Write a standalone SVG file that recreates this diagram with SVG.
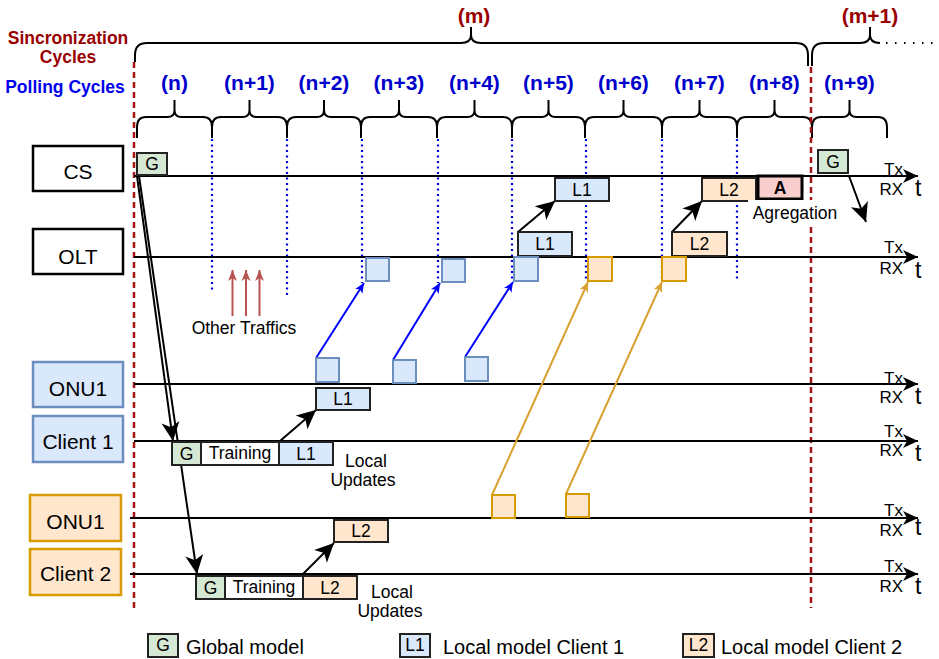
<svg xmlns="http://www.w3.org/2000/svg" width="939" height="659" viewBox="0 0 939 659">
<style>
text{font-family:"Liberation Sans",Arial,sans-serif;fill:#000}
.lbl{font-size:17.5px}
.nd{font-size:21px;text-anchor:middle}
.mid{text-anchor:middle}
.end{text-anchor:end}
.poll{font-size:21px;font-weight:bold;fill:#0000CC;text-anchor:middle}
.sync{font-size:21px;font-weight:bold;fill:#990000;text-anchor:middle}
.tl{stroke:#000;stroke-width:2;fill:none}
.brace{stroke:#000;stroke-width:2;fill:none}
.red{stroke:#A31515;stroke-width:2.5;stroke-dasharray:6 4;fill:none}
.dot{stroke:#0000DD;stroke-width:2.2;stroke-dasharray:2 3.5;fill:none}
.nbox{fill:#fff;stroke:#000;stroke-width:2.5}
.nblue{fill:#dae8fc;stroke:#6c8ebf;stroke-width:2.5}
.norg{fill:#ffe6cc;stroke:#d79b00;stroke-width:2.5}
.g{fill:#d5e8d4;stroke:#222;stroke-width:2}
.l1{fill:#dae8fc;stroke:#222;stroke-width:2}
.l2{fill:#ffe6cc;stroke:#222;stroke-width:2}
.tr{fill:#fff;stroke:#222;stroke-width:2}
.sqb{fill:#dae8fc;stroke:#6c8ebf;stroke-width:2}
.sqo{fill:#ffe6cc;stroke:#d79b00;stroke-width:2}
.ab{stroke:#000;stroke-width:2;fill:none;marker-end:url(#ab)}
.bl{stroke:#0000FF;stroke-width:2;fill:none;marker-end:url(#sb)}
.or{stroke:#DAA030;stroke-width:2;fill:none;marker-end:url(#so)}
.ra{stroke:#B85450;stroke-width:2;fill:none;marker-end:url(#sr)}
.txs{font-size:17px}
.tt{font-size:23px}
</style>
<defs>
<marker id="ab" markerUnits="userSpaceOnUse" markerWidth="22" markerHeight="20" viewBox="0 0 22 20" refX="20" refY="10" orient="auto"><path d="M20,10 L1,1 L6,10 L1,19 Z" fill="#000"/></marker>
<marker id="at" markerUnits="userSpaceOnUse" markerWidth="18" markerHeight="16" viewBox="0 0 18 16" refX="16" refY="8" orient="auto"><path d="M16,8 L1,1 L5,8 L1,15 Z" fill="#000"/></marker>
<marker id="sb" markerUnits="userSpaceOnUse" markerWidth="11" markerHeight="10" viewBox="0 0 11 10" refX="10" refY="5" orient="auto"><path d="M10,5 L0,0.5 L2.5,5 L0,9.5 Z" fill="#0000FF"/></marker>
<marker id="so" markerUnits="userSpaceOnUse" markerWidth="11" markerHeight="10" viewBox="0 0 11 10" refX="10" refY="5" orient="auto"><path d="M10,5 L0,0.5 L2.5,5 L0,9.5 Z" fill="#DAA030"/></marker>
<marker id="sr" markerUnits="userSpaceOnUse" markerWidth="12" markerHeight="10" viewBox="0 0 12 10" refX="11" refY="5" orient="auto"><path d="M11,5 L0,0.5 L3,5 L0,9.5 Z" fill="#B85450"/></marker>
</defs>
<rect width="939" height="659" fill="#fff"/>

<!-- header labels -->
<g id="header">
<text class="lbl mid" x="68" y="44" style="font-weight:bold;fill:#990000">Sincronization</text>
<text class="lbl mid" x="68" y="63" style="font-weight:bold;fill:#990000">Cycles</text>
<text class="lbl mid" x="65" y="93" style="font-weight:bold;fill:#0000EE">Polling Cycles</text>
<text class="sync" x="474" y="23">(m)</text>
<text class="sync" x="870" y="23">(m+1)</text>
<text class="poll" x="174.5" y="90">(n)</text>
<text class="poll" x="249.5" y="90">(n+1)</text>
<text class="poll" x="324" y="90">(n+2)</text>
<text class="poll" x="399" y="90">(n+3)</text>
<text class="poll" x="474.5" y="90">(n+4)</text>
<text class="poll" x="548.5" y="90">(n+5)</text>
<text class="poll" x="623.5" y="90">(n+6)</text>
<text class="poll" x="699.5" y="90">(n+7)</text>
<text class="poll" x="774.5" y="90">(n+8)</text>
<text class="poll" x="849.5" y="90">(n+9)</text>
</g>

<!-- braces -->
<g id="braces">
<path class="brace" d="M135,62 L135,55 Q135,43 147,43 L461,43 Q471,43 471,35 L471,27 M471,35 Q471,43 481,43 L796,43 Q808,43 808,55 L808,66"/>
<path class="brace" d="M812,66 L812,55 Q812,43 824,43 L860,43 Q870,43 870,35 L870,27 M870,35 Q870,43 880,43"/>
<line x1="886" y1="43" x2="936" y2="43" stroke="#000" stroke-width="2" stroke-dasharray="1.5 7.5"/>
<path class="brace" d="M137,138 L137,127 Q137,117 146,117 L167.5,117 Q174.5,117 174.5,110 L174.5,100 M174.5,110 Q174.5,117 181.5,117 L203,117 Q212,117 212,127 L212,138
M212,138 L212,127 Q212,117 221,117 L242.5,117 Q249.5,117 249.5,110 L249.5,100 M249.5,110 Q249.5,117 256.5,117 L278,117 Q287,117 287,127 L287,138
M287,138 L287,127 Q287,117 296,117 L317,117 Q324,117 324,110 L324,100 M324,110 Q324,117 331,117 L352,117 Q361,117 361,127 L361,138
M361,138 L361,127 Q361,117 370,117 L392,117 Q399,117 399,110 L399,100 M399,110 Q399,117 406,117 L428,117 Q437,117 437,127 L437,138
M437,138 L437,127 Q437,117 446,117 L467.5,117 Q474.5,117 474.5,110 L474.5,100 M474.5,110 Q474.5,117 481.5,117 L503,117 Q512,117 512,127 L512,138
M512,138 L512,127 Q512,117 521,117 L541.5,117 Q548.5,117 548.5,110 L548.5,100 M548.5,110 Q548.5,117 555.5,117 L576,117 Q585,117 585,127 L585,138
M585,138 L585,127 Q585,117 594,117 L616.5,117 Q623.5,117 623.5,110 L623.5,100 M623.5,110 Q623.5,117 630.5,117 L653,117 Q662,117 662,127 L662,138
M662,138 L662,127 Q662,117 671,117 L692.5,117 Q699.5,117 699.5,110 L699.5,100 M699.5,110 Q699.5,117 706.5,117 L728,117 Q737,117 737,127 L737,138
M737,138 L737,127 Q737,117 746,117 L767.5,117 Q774.5,117 774.5,110 L774.5,100 M774.5,110 Q774.5,117 781.5,117 L803,117 Q812,117 812,127 L812,138
M812,138 L812,127 Q812,117 821,117 L842.5,117 Q849.5,117 849.5,110 L849.5,100 M849.5,110 Q849.5,117 856.5,117 L878,117 Q887,117 887,127 L887,138"/>
</g>

<!-- cycle separators -->
<g id="separators">
<line class="red" x1="134" y1="62" x2="134" y2="608"/>
<line class="red" x1="811" y1="67" x2="811" y2="608"/>
<line class="dot" x1="212" y1="139" x2="212" y2="292"/>
<line class="dot" x1="287" y1="139" x2="287" y2="295"/>
<line class="dot" x1="362" y1="139" x2="362" y2="283"/>
<line class="dot" x1="438" y1="139" x2="438" y2="283"/>
<line class="dot" x1="512" y1="139" x2="512" y2="281"/>
<line class="dot" x1="586" y1="139" x2="586" y2="281"/>
<line class="dot" x1="662" y1="139" x2="662" y2="281"/>
<line class="dot" x1="737" y1="139" x2="737" y2="281"/>
</g>

<!-- timelines -->
<g id="timelines">
<line class="tl" x1="134" y1="176" x2="918" y2="176" marker-end="url(#at)"/>
<line class="tl" x1="134" y1="257" x2="918" y2="257" marker-end="url(#at)"/>
<line class="tl" x1="134" y1="384" x2="918" y2="384" marker-end="url(#at)"/>
<line class="tl" x1="134" y1="441" x2="918" y2="441" marker-end="url(#at)"/>
<line class="tl" x1="130" y1="518" x2="918" y2="518" marker-end="url(#at)"/>
<line class="tl" x1="130" y1="574" x2="918" y2="574" marker-end="url(#at)"/>
<text class="txs end" x="903" y="175">Tx</text><text class="txs end" x="903" y="195">RX</text><text class="tt" x="915" y="196">t</text>
<text class="txs end" x="903" y="253">Tx</text><text class="txs end" x="903" y="274">RX</text><text class="tt" x="915" y="278">t</text>
<text class="txs end" x="903" y="384">Tx</text><text class="txs end" x="903" y="403">RX</text><text class="tt" x="915" y="404">t</text>
<text class="txs end" x="903" y="437">Tx</text><text class="txs end" x="903" y="456">RX</text><text class="tt" x="915" y="461">t</text>
<text class="txs end" x="903" y="516">Tx</text><text class="txs end" x="903" y="536">RX</text><text class="tt" x="915" y="535">t</text>
<text class="txs end" x="903" y="572">Tx</text><text class="txs end" x="903" y="592">RX</text><text class="tt" x="915" y="594">t</text>
</g>

<!-- nodes -->
<g id="node-cs"><rect class="nbox" x="33" y="146" width="90" height="45"/><text class="nd" x="78" y="179">CS</text></g>
<g id="node-olt"><rect class="nbox" x="33" y="229" width="90" height="45"/><text class="nd" x="78" y="264">OLT</text></g>
<g id="node-onu1-a"><rect class="nblue" x="33" y="362" width="90" height="45"/><text class="nd" x="78" y="396">ONU1</text></g>
<g id="node-client1"><rect class="nblue" x="33" y="416" width="90" height="46"/><text class="nd" x="78" y="449">Client 1</text></g>
<g id="node-onu1-b"><rect class="norg" x="30" y="495" width="91" height="46"/><text class="nd" x="75.5" y="529">ONU1</text></g>
<g id="node-client2"><rect class="norg" x="30" y="549" width="91" height="46"/><text class="nd" x="75.5" y="581">Client 2</text></g>

<!-- other traffic -->
<g id="other-traffic">
<line class="ra" x1="232.5" y1="316" x2="232.5" y2="270"/>
<line class="ra" x1="246" y1="316" x2="246" y2="270"/>
<line class="ra" x1="259.5" y1="316" x2="259.5" y2="270"/>
<text class="lbl mid" x="244" y="334">Other Traffics</text>
</g>

<!-- connectors -->
<g id="connectors">
<line class="ab" x1="137" y1="176" x2="173" y2="441"/>
<line class="ab" x1="139" y1="176" x2="197" y2="574"/>
<line class="ab" x1="280" y1="441" x2="316" y2="410"/>
<line class="ab" x1="303" y1="574" x2="334" y2="543"/>
<line class="ab" x1="518" y1="232" x2="555" y2="201"/>
<line class="ab" x1="672" y1="232" x2="702" y2="201"/>
<line class="ab" x1="849" y1="176" x2="866" y2="222"/>
<line class="bl" x1="316" y1="358" x2="364" y2="283"/>
<line class="bl" x1="393" y1="360" x2="440" y2="283"/>
<line class="bl" x1="465" y1="357" x2="513" y2="282"/>
<line class="or" x1="492" y1="495" x2="588" y2="282"/>
<line class="or" x1="566" y1="494" x2="662" y2="282"/>
</g>

<!-- packets / model blocks -->
<g id="cs-g"><rect class="g" x="137" y="153" width="30" height="22"/><text class="lbl mid" x="152" y="170">G</text></g>
<g id="cs-g2"><rect class="g" x="818" y="150" width="30" height="23"/><text class="lbl mid" x="833" y="168">G</text></g>
<g id="cs-l1"><rect class="l1" x="555" y="178" width="54" height="23"/><text class="lbl mid" x="582" y="196">L1</text></g>
<g id="cs-l2"><rect class="l2" x="702" y="178" width="54" height="23"/><text class="lbl mid" x="729" y="196">L2</text></g>
<g id="cs-a"><rect x="758" y="176" width="44" height="23" fill="#f8cecc" stroke="#000" stroke-width="3"/><text class="lbl mid" x="780" y="194" style="font-weight:bold">A</text></g>
<g id="agregation"><rect x="748" y="200" width="94" height="27" fill="#fff"/><text class="lbl mid" x="795" y="219">Agregation</text></g>
<g id="olt-l1"><rect class="l1" x="518" y="232" width="54" height="24"/><text class="lbl mid" x="545" y="250">L1</text></g>
<g id="olt-l2"><rect class="l2" x="672" y="232" width="55" height="24"/><text class="lbl mid" x="699.5" y="250">L2</text></g>
<g id="olt-squares">
<rect class="sqb" x="366" y="258" width="23" height="23"/>
<rect class="sqb" x="442" y="259" width="23" height="23"/>
<rect class="sqb" x="514" y="257" width="24" height="24"/>
<rect class="sqo" x="588" y="257" width="24" height="24"/>
<rect class="sqo" x="662" y="257" width="24" height="24"/>
</g>
<g id="onu1-a-squares">
<rect class="sqb" x="316" y="358" width="23" height="24"/>
<rect class="sqb" x="393" y="360" width="23" height="23"/>
<rect class="sqb" x="465" y="357" width="23" height="24"/>
</g>
<g id="onu1-b-squares">
<rect class="sqo" x="492" y="495" width="23" height="23"/>
<rect class="sqo" x="566" y="494" width="23" height="23"/>
</g>
<g id="onu1-a-l1"><rect class="l1" x="316" y="388" width="54" height="22"/><text class="lbl mid" x="343" y="405">L1</text></g>
<g id="onu1-b-l2"><rect class="l2" x="334" y="520" width="54" height="22"/><text class="lbl mid" x="361" y="537">L2</text></g>
<g id="client1-work">
<rect class="g" x="172" y="442" width="29" height="23"/><text class="lbl mid" x="186.5" y="460">G</text>
<rect class="tr" x="201" y="442" width="78" height="23"/><text class="lbl mid" x="240" y="459">Training</text>
<rect class="l1" x="279" y="442" width="54" height="23"/><text class="lbl mid" x="306" y="460">L1</text>
<text class="lbl mid" x="366" y="467">Local</text><text class="lbl mid" x="363" y="486">Updates</text>
</g>
<g id="client2-work">
<rect class="g" x="196" y="576" width="29" height="23"/><text class="lbl mid" x="210.5" y="594">G</text>
<rect class="tr" x="225" y="576" width="78" height="23"/><text class="lbl mid" x="264" y="593">Training</text>
<rect class="l2" x="303" y="576" width="54" height="23"/><text class="lbl mid" x="330" y="594">L2</text>
<text class="lbl mid" x="392" y="598">Local</text><text class="lbl mid" x="390" y="617">Updates</text>
</g>

<!-- legend -->
<g id="legend">
<rect class="g" x="148" y="634" width="30" height="23"/><text class="lbl mid" x="163" y="651">G</text>
<text x="186" y="654" style="font-size:20px">Global model</text>
<rect class="l1" x="400" y="634" width="30" height="23"/><text class="lbl mid" x="415" y="651">L1</text>
<text x="443" y="654" style="font-size:20px">Local model Client 1</text>
<rect class="l2" x="683" y="634" width="31" height="23"/><text class="lbl mid" x="698.5" y="651">L2</text>
<text x="721" y="654" style="font-size:20px">Local model Client 2</text>
</g>
</svg>
